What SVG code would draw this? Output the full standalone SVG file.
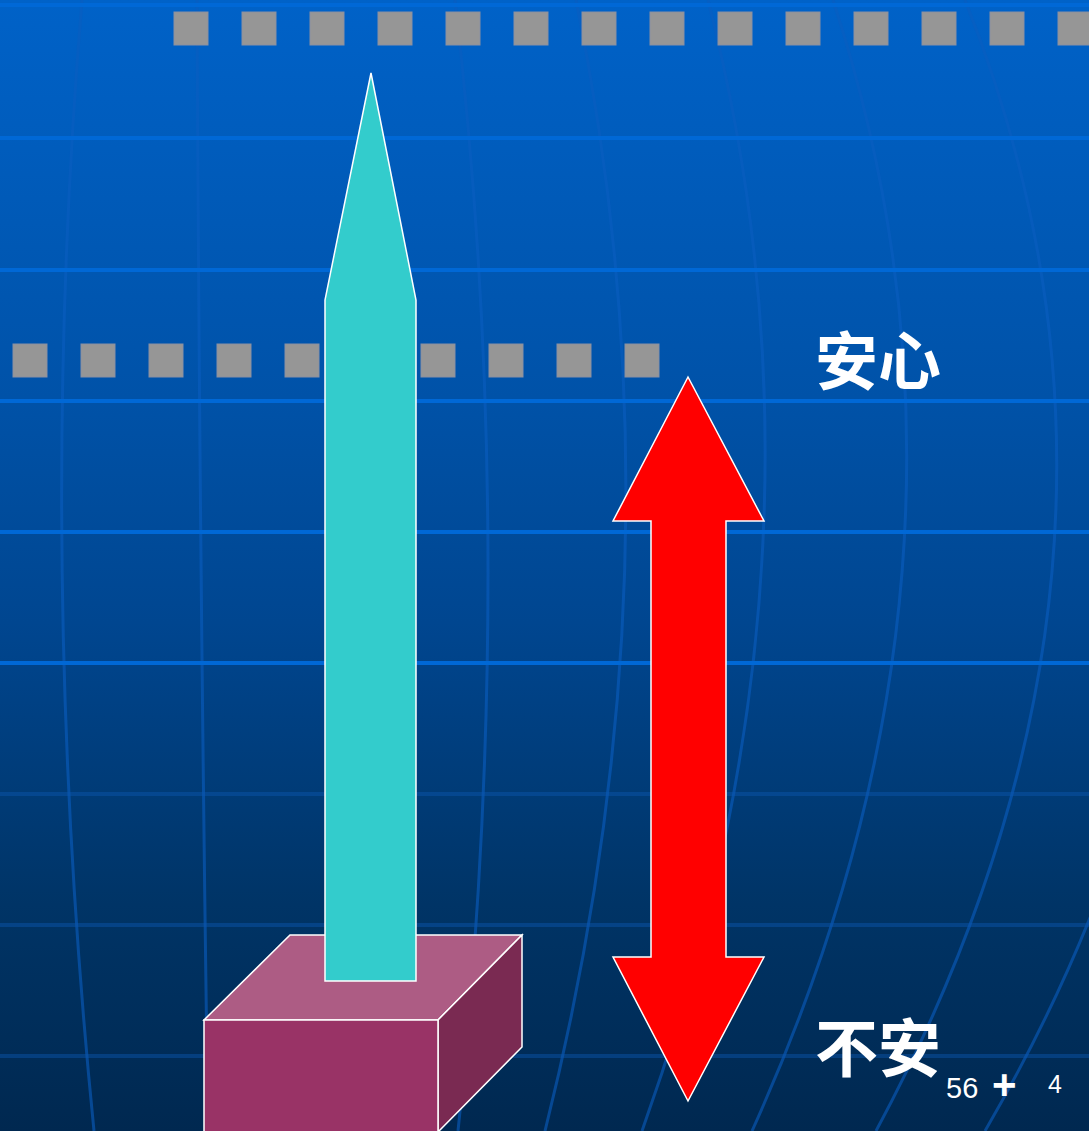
<svg xmlns="http://www.w3.org/2000/svg" width="1089" height="1131" viewBox="0 0 1089 1131">
  <defs>
    <linearGradient id="bg" x1="0" y1="0" x2="0" y2="1">
      <stop offset="0" stop-color="#0062c8"/>
      <stop offset="0.35" stop-color="#0052a8"/>
      <stop offset="0.55" stop-color="#004690"/>
      <stop offset="0.8" stop-color="#003466"/>
      <stop offset="1" stop-color="#002850"/>
    </linearGradient>
  </defs>
  <style>
    .hbright { stroke: #0068d6; stroke-width: 4; fill: none; }
    .hdim { stroke: #0a56b0; stroke-opacity: 0.45; stroke-width: 4; fill: none; }
    .vline { stroke: #0a5dc0; stroke-opacity: 0.6; stroke-width: 3; fill: none; }
    .sq { fill: #969696; stroke: #8a90a2; stroke-width: 1; }
    .edge { stroke: #ffffff; stroke-width: 1.5; stroke-linejoin: miter; }
    .cjk { font-family: "Noto Sans CJK SC", "Noto Sans CJK JP", sans-serif; font-weight: bold; font-size: 63px; fill: #ffffff; }
    .num { font-family: "Liberation Sans", Arial, sans-serif; fill: #ffffff; }
  </style>

  <g id="background">
    <rect x="0" y="0" width="1089" height="1131" fill="url(#bg)"/>
    <g id="meridians">
      <path class="vline" d="M82,0 Q36,554 94,1131"/>
      <path class="vline" d="M197,0 Q199.5,554 208,1131"/>
      <path class="vline" d="M455,0 Q519.5,554 458,1131"/>
      <path class="vline" d="M576,0 Q689.5,554 545,1131"/>
      <path class="vline" d="M708,0 Q849,554 642,1131"/>
      <path class="vline" d="M833,0 Q1013.5,554 752,1131"/>
      <path class="vline" d="M965,0 Q1185.5,554 876,1131"/>
      <path class="vline" d="M1095,0 Q1320,554 985,1131"/>
    </g>
    <g id="parallels">
      <line class="hbright" x1="0" y1="5" x2="1089" y2="5"/>
      <line class="hbright" x1="0" y1="138" x2="1089" y2="138"/>
      <line class="hbright" x1="0" y1="270" x2="1089" y2="270"/>
      <line class="hbright" x1="0" y1="401" x2="1089" y2="401"/>
      <line class="hbright" x1="0" y1="532" x2="1089" y2="532"/>
      <line class="hbright" x1="0" y1="663" x2="1089" y2="663"/>
      <line class="hdim" x1="0" y1="794" x2="1089" y2="794"/>
      <line class="hdim" x1="0" y1="925" x2="1089" y2="925"/>
      <line class="hdim" x1="0" y1="1056" x2="1089" y2="1056"/>
    </g>
  </g>

  <g id="top-dotted-line">
    <rect class="sq" x="174" y="12" width="34" height="33"/>
    <rect class="sq" x="242" y="12" width="34" height="33"/>
    <rect class="sq" x="310" y="12" width="34" height="33"/>
    <rect class="sq" x="378" y="12" width="34" height="33"/>
    <rect class="sq" x="446" y="12" width="34" height="33"/>
    <rect class="sq" x="514" y="12" width="34" height="33"/>
    <rect class="sq" x="582" y="12" width="34" height="33"/>
    <rect class="sq" x="650" y="12" width="34" height="33"/>
    <rect class="sq" x="718" y="12" width="34" height="33"/>
    <rect class="sq" x="786" y="12" width="34" height="33"/>
    <rect class="sq" x="854" y="12" width="34" height="33"/>
    <rect class="sq" x="922" y="12" width="34" height="33"/>
    <rect class="sq" x="990" y="12" width="34" height="33"/>
    <rect class="sq" x="1058" y="12" width="34" height="33"/>
  </g>

  <g id="middle-dotted-line">
    <rect class="sq" x="13" y="344" width="34" height="33"/>
    <rect class="sq" x="81" y="344" width="34" height="33"/>
    <rect class="sq" x="149" y="344" width="34" height="33"/>
    <rect class="sq" x="217" y="344" width="34" height="33"/>
    <rect class="sq" x="285" y="344" width="34" height="33"/>
    <rect class="sq" x="353" y="344" width="34" height="33"/>
    <rect class="sq" x="421" y="344" width="34" height="33"/>
    <rect class="sq" x="489" y="344" width="34" height="33"/>
    <rect class="sq" x="557" y="344" width="34" height="33"/>
    <rect class="sq" x="625" y="344" width="34" height="33"/>
  </g>

  <g id="base-box">
    <polygon class="edge" fill="#ad5c84" points="204,1020 290,935 522,935 438,1020"/>
    <polygon class="edge" fill="#7a2a52" points="438,1020 522,935 522,1047 438,1132"/>
    <polygon class="edge" fill="#993366" points="204,1020 438,1020 438,1132 204,1132"/>
  </g>

  <g id="spire">
    <polygon class="edge" fill="#33cccc" points="371,73 416,300 416,981 325,981 325,300"/>
  </g>

  <g id="connectors">
    <polygon id="updown-arrow" class="edge" fill="#ff0000" points="688,377 764,521 726,521 726,957 764,957 688,1101 613,957 651,957 651,521 613,521"/>
  </g>

  <g id="label-anxin">
    <text class="cjk" x="815" y="384">安心</text>
  </g>
  <g id="label-buan">
    <text class="cjk" x="815" y="1071">不安</text>
  </g>
  <g id="page-number">
    <text class="num" x="946" y="1098" font-size="29">56</text>
    <text class="num" x="992" y="1099" font-size="42" font-weight="bold">+</text>
    <text class="num" x="1048" y="1093" font-size="25">4</text>
  </g>
</svg>
